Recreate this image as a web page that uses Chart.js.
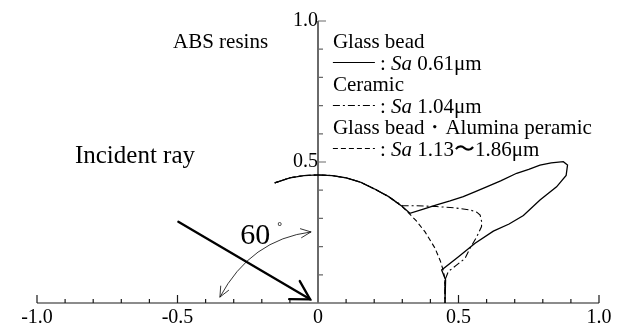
<!DOCTYPE html>
<html>
<head>
<meta charset="utf-8">
<script src="https://cdn.jsdelivr.net/npm/chart.js@4.4.1/dist/chart.umd.min.js"></script>
<style>
  html, body { margin: 0; padding: 0; background: #fff; }
  canvas { display: block; }
</style>
</head>
<body>
<canvas id="chart" width="624" height="329"></canvas>
<script>
// Reflection intensity distributions of ABS resins (polar plot, x/y in relative intensity)
const seriesNames = ['Glass bead', 'Ceramic', 'Glass bead・Alumina peramic'];
const seriesSa = ['0.61μm', '1.04μm', '1.13〜1.86μm'];
const seriesDash = [[], [7, 3, 2, 3], [5, 3]];

const xTickValues = [-1.0, -0.5, 0, 0.5, 1.0];
const xTickLabels = ['-1.0', '-0.5', '0', '0.5', '1.0'];
const yTickValues = [0.5, 1.0];
const yTickLabels = ['0.5', '1.0'];

// Glass bead, Sa 0.61 µm
const glassBead = [
  [-0.154, 0.426], [-0.10, 0.444], [-0.05, 0.452], [0.00, 0.454], [0.05, 0.452],
  [0.10, 0.444], [0.15, 0.429], [0.20, 0.405], [0.25, 0.378], [0.30, 0.342],
  [0.327, 0.318], [0.375, 0.333], [0.422, 0.348], [0.470, 0.362], [0.517, 0.377],
  [0.560, 0.395], [0.600, 0.412], [0.650, 0.433], [0.707, 0.460], [0.750, 0.474],
  [0.790, 0.489], [0.830, 0.497], [0.873, 0.501], [0.888, 0.489], [0.883, 0.452],
  [0.849, 0.412], [0.790, 0.365], [0.731, 0.310], [0.680, 0.280], [0.624, 0.255],
  [0.559, 0.212], [0.500, 0.164], [0.440, 0.117], [0.454, 0.082], [0.452, 0.000]
];

// Ceramic, Sa 1.04 µm
const ceramic = [
  [-0.154, 0.426], [-0.10, 0.444], [-0.05, 0.452], [0.00, 0.454], [0.05, 0.452],
  [0.10, 0.444], [0.15, 0.429], [0.20, 0.405], [0.25, 0.378], [0.30, 0.345],
  [0.350, 0.345], [0.422, 0.342], [0.490, 0.337], [0.541, 0.330], [0.565, 0.322],
  [0.577, 0.312], [0.582, 0.290], [0.582, 0.271], [0.565, 0.235], [0.541, 0.194],
  [0.523, 0.158], [0.494, 0.135], [0.464, 0.112], [0.452, 0.082], [0.452, 0.000]
];

// Glass bead + Alumina peramic, Sa 1.13-1.86 µm
const aluminaMix = [
  [-0.154, 0.426], [-0.10, 0.444], [-0.05, 0.452], [0.00, 0.454], [0.05, 0.452],
  [0.10, 0.444], [0.15, 0.429], [0.20, 0.405], [0.25, 0.378], [0.30, 0.342],
  [0.350, 0.291], [0.381, 0.252], [0.416, 0.195], [0.435, 0.150], [0.446, 0.115],
  [0.452, 0.082], [0.452, 0.000]
];

const seriesData = [glassBead, ceramic, aluminaMix];

const SERIF = '"Liberation Serif", "Times New Roman", serif';

// Axis lines with inward ticks (x every 0.1 pointing up, y every 0.1 pointing right)
const axesPlugin = {
  id: 'innerAxes',
  beforeDatasetsDraw(chart) {
    const { ctx, scales: { x, y } } = chart;
    const x0 = x.getPixelForValue(0);
    const yb = y.getPixelForValue(0);
    ctx.save();
    // horizontal axis
    ctx.strokeStyle = '#1a1a1a';
    ctx.lineWidth = 1.2;
    ctx.beginPath();
    ctx.moveTo(x.getPixelForValue(-1), yb);
    ctx.lineTo(x.getPixelForValue(1), yb);
    for (let i = -10; i <= 10; i++) {
      const px = x.getPixelForValue(i / 10);
      const len = (i % 5 === 0) ? 8 : 4;
      ctx.moveTo(px, yb);
      ctx.lineTo(px, yb - len);
    }
    ctx.stroke();
    // vertical axis
    ctx.strokeStyle = '#6a6a6a';
    ctx.lineWidth = 2;
    ctx.beginPath();
    ctx.moveTo(x0, yb);
    ctx.lineTo(x0, y.getPixelForValue(1));
    ctx.stroke();
    ctx.lineWidth = 1.2;
    ctx.beginPath();
    for (let i = 1; i <= 10; i++) {
      const py = y.getPixelForValue(i / 10);
      const len = (i % 5 === 0) ? 8 : 5;
      ctx.moveTo(x0, py);
      ctx.lineTo(x0 + len, py);
    }
    ctx.stroke();
    ctx.restore();
  }
};

function arrowHead(ctx, tipX, tipY, fromX, fromY, len, spread) {
  const ang = Math.atan2(tipY - fromY, tipX - fromX);
  ctx.beginPath();
  ctx.moveTo(tipX - len * Math.cos(ang - spread), tipY - len * Math.sin(ang - spread));
  ctx.lineTo(tipX, tipY);
  ctx.lineTo(tipX - len * Math.cos(ang + spread), tipY - len * Math.sin(ang + spread));
  ctx.stroke();
}

// Incident ray, angle marker, captions and legend
const notesPlugin = {
  id: 'notes',
  afterDatasetsDraw(chart) {
    const { ctx, scales: { x, y } } = chart;
    const P = (vx, vy) => [x.getPixelForValue(vx), y.getPixelForValue(vy)];
    ctx.save();
    ctx.strokeStyle = '#000';
    ctx.fillStyle = '#000';
    ctx.lineCap = 'round';
    ctx.lineJoin = 'miter';

    // incident ray
    const [ax, ay] = P(-0.497, 0.288);
    const [bx, by] = P(-0.028, 0.013);
    ctx.lineWidth = 2.3;
    ctx.beginPath();
    ctx.moveTo(ax, ay);
    ctx.lineTo(bx, by);
    ctx.stroke();
    arrowHead(ctx, bx, by, ax, ay, 21, Math.PI / 6);

    // 60° angle marker
    const [p1x, p1y] = P(-0.349, 0.021);
    const [cx, cy] = P(-0.240, 0.225);
    const [p3x, p3y] = P(-0.025, 0.252);
    ctx.lineWidth = 0.8;
    ctx.beginPath();
    ctx.moveTo(p1x, p1y);
    ctx.quadraticCurveTo(cx, cy, p3x, p3y);
    ctx.stroke();
    arrowHead(ctx, p1x, p1y, cx, cy, 11, 0.42);
    arrowHead(ctx, p3x, p3y, cx, cy, 11, 0.42);

    // captions
    ctx.textBaseline = 'alphabetic';
    ctx.textAlign = 'left';
    let [tx, ty] = P(-0.865, 0.496);
    ctx.font = '25px ' + SERIF;
    ctx.fillText('Incident ray', tx, ty);

    [tx, ty] = P(-0.277, 0.209);
    ctx.font = '30px ' + SERIF;
    ctx.fillText('60', tx, ty);
    [tx, ty] = P(-0.145, 0.259);
    ctx.font = '12px ' + SERIF;
    ctx.fillText('°', tx, ty);

    [tx, ty] = P(-0.516, 0.904);
    ctx.font = '21px ' + SERIF;
    ctx.fillText('ABS resins', tx, ty);

    // legend
    const [lx, ly] = P(0.053, 0.904);
    const step = 21.5;
    seriesNames.forEach((name, i) => {
      const b1 = ly + step * 2 * i;
      const b2 = b1 + step;
      ctx.font = '21px ' + SERIF;
      ctx.fillText(name, lx, b1);
      ctx.lineWidth = 1.1;
      ctx.lineCap = 'butt';
      ctx.setLineDash(seriesDash[i]);
      ctx.beginPath();
      ctx.moveTo(lx, b2 - 7);
      ctx.lineTo(lx + 42, b2 - 7);
      ctx.stroke();
      ctx.setLineDash([]);
      let cx2 = lx + 47;
      ctx.fillText(':', cx2, b2);
      cx2 = lx + 58;
      ctx.font = 'italic 21px ' + SERIF;
      ctx.fillText('Sa', cx2, b2);
      cx2 += ctx.measureText('Sa').width;
      ctx.font = '21px ' + SERIF;
      ctx.fillText(' ' + seriesSa[i], cx2, b2);
    });
    ctx.restore();
  }
};

const tickFont = { family: SERIF, size: 20, lineHeight: 1 };

new Chart(document.getElementById('chart'), {
  type: 'scatter',
  data: {
    datasets: seriesData.map((pts, i) => ({
      label: seriesNames[i],
      data: pts.map(([px, py]) => ({ x: px, y: py })),
      showLine: true,
      borderColor: '#000',
      backgroundColor: '#000',
      borderWidth: i === 0 ? 1.3 : 1.1,
      borderDash: seriesDash[i],
      pointRadius: 0,
      tension: 0,
      order: 2 - i
    }))
  },
  options: {
    responsive: false,
    animation: false,
    events: [],
    layout: { padding: { left: 37, right: 25, top: 21, bottom: 0 } },
    plugins: { legend: { display: false }, tooltip: { enabled: false } },
    scales: {
      x: {
        type: 'linear', min: -1, max: 1, position: 'bottom',
        grid: { display: false, drawTicks: false }, border: { display: false },
        afterBuildTicks: s => { s.ticks = xTickValues.map(v => ({ value: v })); },
        afterFit: s => { s.height = 26; },
        ticks: {
          font: tickFont, color: '#000', padding: 5, maxRotation: 0, autoSkip: false,
          callback: (v, idx) => xTickLabels[idx]
        }
      },
      y: {
        type: 'linear', min: 0, max: 1, position: { x: 0 },
        grid: { display: false, drawTicks: false }, border: { display: false },
        afterBuildTicks: s => { s.ticks = yTickValues.map(v => ({ value: v })); },
        ticks: {
          font: tickFont, color: '#000', padding: 4, autoSkip: false,
          callback: (v, idx) => yTickLabels[idx]
        }
      }
    }
  },
  plugins: [axesPlugin, notesPlugin]
});
</script>
</body>
</html>
